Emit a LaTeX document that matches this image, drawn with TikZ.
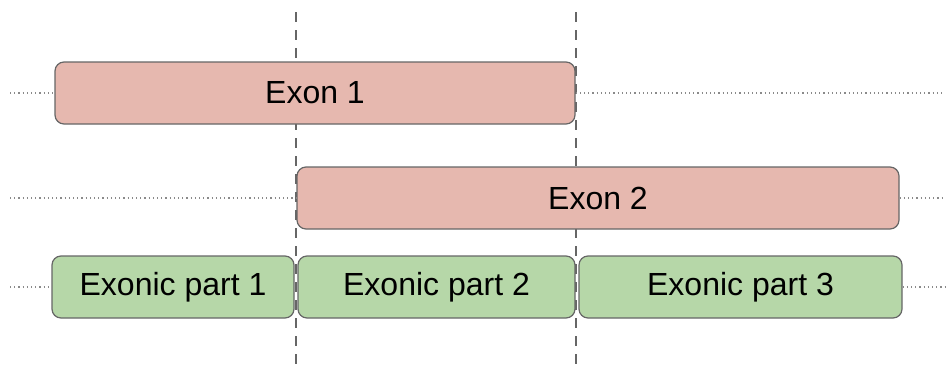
\documentclass[tikz,border=0pt]{standalone}
\usepackage{fontspec}
\setmainfont{Liberation Sans}
\definecolor{exonfill}{HTML}{E6B8AF}
\definecolor{partfill}{HTML}{B6D7A8}
\definecolor{edgegray}{HTML}{666666}
\definecolor{dotgray}{HTML}{8A8A8A}
\tikzset{
  bar/.style={draw=edgegray, line width=1.2pt, rounded corners=9pt, inner sep=0pt,
    font=\fontsize{32}{36}\selectfont, text=black},
  exonbox/.style={bar, fill=exonfill},
  partbox/.style={bar, fill=partfill},
  guide/.style={draw=edgegray, line width=2.6pt, dash pattern=on 10pt off 8pt},
  track/.style={draw=dotgray, line width=1.1pt, dash pattern=on 1.2pt off 3pt}
}
\begin{document}
\begin{tikzpicture}[x=1pt,y=-1pt]
\useasboundingbox (0,0) rectangle (949,370);
% vertical guides
\coordinate (g1t) at (296,12);
\coordinate (g1b) at (296,368);
\coordinate (g2t) at (576,12);
\coordinate (g2b) at (576,368);
\draw[guide] (g1t) -- (g1b);
\draw[guide] (g2t) -- (g2b);
% boxes
\node[exonbox, minimum width=520pt, minimum height=62pt] (e1) at (315,93) {Exon 1};
\node[exonbox, minimum width=602pt, minimum height=62pt] (e2) at (598,198) {Exon 2};
\node[partbox, minimum width=242pt, minimum height=62pt] (p1) at (173,287) {Exonic part 1};
\node[partbox, minimum width=277pt, minimum height=62pt] (p2) at (436.5,287) {Exonic part 2};
\node[partbox, minimum width=323pt, minimum height=62pt] (p3) at (740.5,287) {Exonic part 3};
% dotted tracks
\coordinate (r1l) at (10,93);
\coordinate (r1r) at (945,93);
\coordinate (r2l) at (10,198);
\coordinate (r2r) at (945,198);
\coordinate (r3l) at (10,287);
\coordinate (r3r) at (945,287);
\draw[track] (r1l) -- (e1.west);
\draw[track] (e1.east) -- (r1r);
\draw[track] (r2l) -- (e2.west);
\draw[track] (e2.east) -- (r2r);
\draw[track] (r3l) -- (p1.west);
\draw[track] (p3.east) -- (r3r);
\end{tikzpicture}
\end{document}
